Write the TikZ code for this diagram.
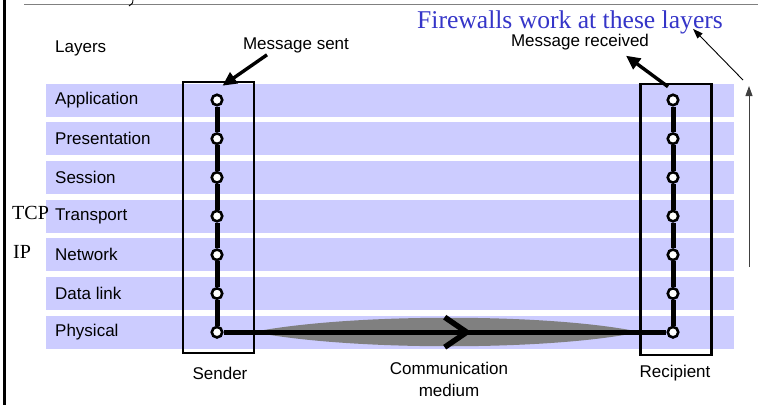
\documentclass[tikz,border=0pt]{standalone}
\usepackage{fontspec}
\setmainfont{Liberation Serif}
\newfontfamily\arialfont{Liberation Sans}
\usetikzlibrary{calc,positioning,arrows.meta,decorations.markings}

\begin{document}
\begin{tikzpicture}[x=1pt,y=-1pt,line cap=butt]
  % Local definitions
  \def\rowgap{38.7}

  % Colors
  \definecolor{bandcolor}{HTML}{CCCCFF}
  \definecolor{fwcolor}{HTML}{3535C8}
  \colorlet{lenscolor}{black!50}

  % Styles
  \tikzstyle{band}=[fill=bandcolor,draw=none]
  \tikzstyle{layer text}=[font=\arialfont\fontsize{17}{20}\selectfont,inner sep=0pt,anchor=west]
  \tikzstyle{label text}=[font=\arialfont\fontsize{17}{22}\selectfont,inner sep=0pt,align=center]
  \tikzstyle{proto text}=[font=\fontsize{20}{22}\selectfont,inner sep=0pt,anchor=west]
  \tikzstyle{dot}=[circle,draw,fill=white,line width=2.6pt,minimum size=10.5pt,inner sep=0pt]
  \tikzstyle{stack line}=[line width=5pt]
  \tikzstyle{end box}=[draw,line width=2.6pt,minimum width=71pt,minimum height=271pt,inner sep=0pt]
  \tikzstyle{msg arrow}=[line width=3.4pt,-{Triangle[length=14pt,width=13pt]}]
  \tikzstyle{thin arrow}=[line width=0.9pt,-{Triangle[length=10pt,width=7pt]}]

  \useasboundingbox (0,0) rectangle (758,405);

  % Frame
  \draw[line width=2.2pt] (4.5,0) -- (4.5,405);
  \draw[lenscolor,line width=1.8pt] (24,4.5) -- (758,4.5);
  \draw[line width=0.9pt] (133,0) .. controls (133,3) .. (129,6);

  % The graphic
  \foreach \name [count=\i from 0] in {Application,Presentation,Session,Transport,Network,Data link,Physical} {
    \fill[style=band] (46,100+\rowgap*\i-16.5) rectangle (734,100+\rowgap*\i+16.5);
    \node[style=layer text] (L\i) at (55,100+\rowgap*\i) {\name};
  }

  % medium
  \fill[lenscolor] (253,332) .. controls (350,313) and (550,313) .. (640,332)
                             .. controls (550,351) and (350,351) .. (253,332);

  \node[style=end box] (sbox) at (218.5,217.5) {};
  \node[style=end box] (rbox) at (676,219.5) {};

  \foreach \i in {0,...,6} {
    \node[style=dot] (s\i) at (217,100+\rowgap*\i) {};
    \node[style=dot] (r\i) at (673,100+\rowgap*\i) {};
  }

  % Lines
  \foreach \i [evaluate=\i as \j using int(\i+1)] in {0,...,5} {
    \draw[style=stack line] (s\i) -- (s\j);
    \draw[style=stack line] (r\i) -- (r\j);
  }
  \draw[style=stack line,postaction={decorate,decoration={markings,
      mark=at position 0.56 with {\arrow[line width=5.5pt]{Straight Barb[length=22pt,width=30pt]}}}}]
    (s6) -- (r6);

  % Texts
  \node[style=layer text] (layers) at (55,48) {Layers};
  \node[style=label text] (sent) at (296,45) {Message sent};
  \node[style=label text] (received) at (580,42) {Message received};
  \node[font=\fontsize{25.6}{28}\selectfont,text=fwcolor,inner sep=0pt] (fw) at (570,22) {Firewalls work at these layers};
  \node[style=proto text] (tcp) at (12,213) {TCP};
  \node[style=proto text] (ip) at (13,252) {IP};
  \node[style=label text] (sender) at (220,373) {Sender};
  \node[style=label text] (recipient) at (675,373) {Recipient};
  \node[style=label text] (medium) at (449,379) {Communication\\medium};

  % Arrows
  \draw[style=msg arrow] ([xshift=-29pt,yshift=-2pt]sent.south) -- ([xshift=4pt,yshift=-5pt]sbox.north);
  \draw[style=msg arrow] ([xshift=-8pt,yshift=-4pt]rbox.north) -- ([xshift=-50pt,yshift=27pt]rbox.north);
  \coordinate (fwtail) at (743,80);
  \draw[style=thin arrow] (fwtail) -- ([xshift=-30pt,yshift=5pt]fw.south east);
  \coordinate (uptail) at (749,267);
  \coordinate (uphead) at (749,86);
  \draw[style=thin arrow,black!75] (uptail) -- (uphead);
\end{tikzpicture}
\end{document}
